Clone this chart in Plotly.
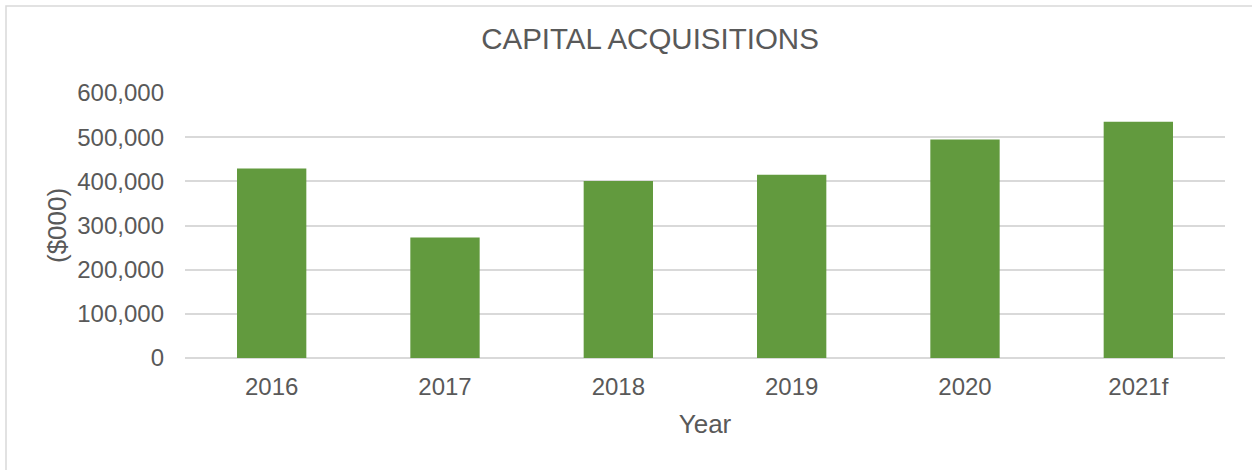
import plotly.graph_objects as go

# Data
years = ["2016", "2017", "2018", "2019", "2020", "2021f"]
acquisitions = [429000, 273000, 401000, 415000, 495000, 535000]
y_ticks = [0, 100000, 200000, 300000, 400000, 500000, 600000]
y_tick_labels = ["0", "100,000", "200,000", "300,000", "400,000", "500,000", "600,000"]

W, H = 1252, 470
L, R, T, B = 185, 27, 93, 112
pw, ph = W - L - R, H - T - B

def px_x(px):
    return (px - L) / pw

def px_y(py):
    return (H - B - py) / ph

TXT = "#595959"
FONT = "Liberation Sans, Arial, sans-serif"

fig = go.Figure(
    go.Bar(
        x=years,
        y=acquisitions,
        marker=dict(color="#629A3E", line=dict(width=0)),
        width=0.4,
    )
)

fig.update_layout(
    width=W,
    height=H,
    margin=dict(l=L, r=R, t=T, b=B),
    paper_bgcolor="white",
    plot_bgcolor="white",
    showlegend=False,
    font=dict(family=FONT, color=TXT),
    title=dict(
        text="CAPITAL ACQUISITIONS",
        xref="container",
        x=650 / W,
        xanchor="center",
        yref="container",
        y=1 - 39 / H,
        yanchor="middle",
        font=dict(size=29.5, color=TXT, family=FONT),
    ),
    bargap=0.6,
)

fig.update_xaxes(
    showgrid=False,
    showline=False,
    ticks="",
    tickfont=dict(size=24, color=TXT),
    ticklabelstandoff=12,
    title=dict(text="Year", font=dict(size=26, color=TXT), standoff=15),
)

fig.update_yaxes(
    range=[0, 600000],
    tickvals=y_ticks,
    ticktext=y_tick_labels,
    showgrid=True,
    gridcolor="#D9D9D9",
    gridwidth=1.5,
    zeroline=True,
    zerolinecolor="#D9D9D9",
    zerolinewidth=2,
    showline=False,
    ticks="",
    tickfont=dict(size=24, color=TXT),
    ticklabelstandoff=20,
)

# y-axis title
fig.add_annotation(
    text="($000)",
    textangle=-90,
    xref="paper",
    yref="paper",
    x=px_x(57),
    y=px_y(226),
    xanchor="center",
    yanchor="middle",
    showarrow=False,
    font=dict(size=26, color=TXT, family=FONT),
)

# chart border (top and left visible, right/bottom run off the picture)
fig.add_shape(
    type="rect",
    xref="paper",
    yref="paper",
    x0=px_x(6),
    x1=px_x(1262),
    y0=px_y(480),
    y1=px_y(6),
    line=dict(color="#D9D9D9", width=1.5),
    fillcolor="rgba(0,0,0,0)",
    layer="below",
)

fig.write_html(
    "out.html",
    config={"displayModeBar": False},
    post_script="document.body.style.margin='0';document.body.style.overflow='hidden';",
)
